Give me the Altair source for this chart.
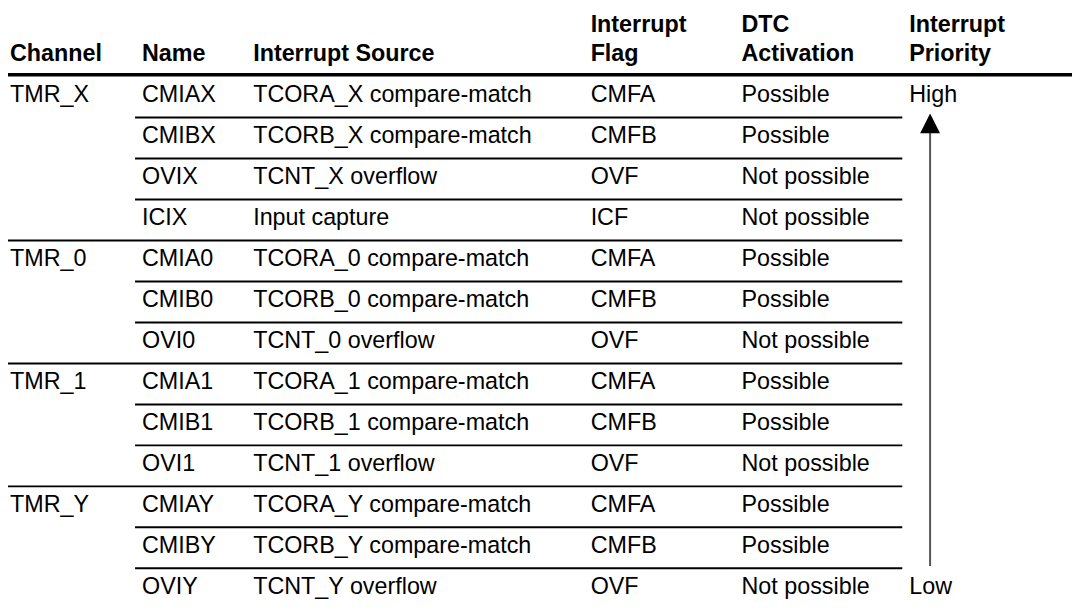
import altair as alt
import pandas as pd

# ---------------- data ----------------
columns = ["Channel", "Name", "Interrupt Source", "Interrupt Flag", "DTC Activation", "Interrupt Priority"]
header_line1 = ["", "", "", "Interrupt", "DTC", "Interrupt"]
header_line2 = ["Channel", "Name", "Interrupt Source", "Flag", "Activation", "Priority"]

channels = ["TMR_X", "", "", "", "TMR_0", "", "", "TMR_1", "", "", "TMR_Y", "", ""]
names = ["CMIAX", "CMIBX", "OVIX", "ICIX", "CMIA0", "CMIB0", "OVI0",
         "CMIA1", "CMIB1", "OVI1", "CMIAY", "CMIBY", "OVIY"]
sources = ["TCORA_X compare-match", "TCORB_X compare-match", "TCNT_X overflow", "Input capture",
           "TCORA_0 compare-match", "TCORB_0 compare-match", "TCNT_0 overflow",
           "TCORA_1 compare-match", "TCORB_1 compare-match", "TCNT_1 overflow",
           "TCORA_Y compare-match", "TCORB_Y compare-match", "TCNT_Y overflow"]
flags = ["CMFA", "CMFB", "OVF", "ICF", "CMFA", "CMFB", "OVF",
         "CMFA", "CMFB", "OVF", "CMFA", "CMFB", "OVF"]
dtc = ["Possible", "Possible", "Not possible", "Not possible", "Possible", "Possible", "Not possible",
       "Possible", "Possible", "Not possible", "Possible", "Possible", "Not possible"]
priority = ["High", "", "", "", "", "", "", "", "", "", "", "", "Low"]

table = [channels, names, sources, flags, dtc, priority]
n_rows = len(names)

# ---------------- layout (not data) ----------------
W, H = 1075, 603
COL_X = [2, 135, 247, 587, 739, 908]
ROW_TOP = 66.7
ROW_H = 41.3
FONT = "Liberation Sans"
FS = 23.5

yscale = alt.Scale(domain=[-ROW_TOP / ROW_H, (H - ROW_TOP) / ROW_H], reverse=True, nice=False, zero=False)

layers = []

# body cells, one layer per column
for j, col in enumerate(columns):
    df = pd.DataFrame({"row": list(range(n_rows)), "text": table[j]})
    df = df[df["text"] != ""]
    layers.append(
        alt.Chart(df).transform_calculate(yc="datum.row + 0.5")
        .mark_text(align="left", baseline="middle", dy=-2, font=FONT, fontSize=FS, color="black")
        .encode(x=alt.value(COL_X[j]), y=alt.Y("yc:Q", scale=yscale, axis=None), text="text:N")
    )
    hdf = pd.DataFrame({"l1": [header_line1[j]], "l2": [header_line2[j]]})
    layers.append(
        alt.Chart(hdf).mark_text(align="left", baseline="alphabetic", dy=-15.2, font=FONT,
                                 fontSize=FS, fontWeight="bold", color="black")
        .encode(x=alt.value(COL_X[j]), y=alt.Y(datum=0, scale=yscale, axis=None), text="l2:N")
    )
    if header_line1[j]:
        layers.append(
            alt.Chart(hdf).mark_text(align="left", baseline="alphabetic", dy=-45.2, font=FONT,
                                     fontSize=FS, fontWeight="bold", color="black")
            .encode(x=alt.value(COL_X[j]), y=alt.Y(datum=0, scale=yscale, axis=None), text="l1:N")
        )

# header rule
one = pd.DataFrame({"a": [0]})
layers.append(
    alt.Chart(one).mark_rule(color="black", strokeWidth=3.5)
    .encode(x=alt.value(0), x2=alt.value(1072), y=alt.Y(datum=-0.04, scale=yscale, axis=None))
)

# row separators
group_k = [k for k in range(1, n_rows) if channels[k] != ""]
inner_k = [k for k in range(1, n_rows) if channels[k] == ""]
layers.append(
    alt.Chart(pd.DataFrame({"k": group_k})).mark_rule(color="black", strokeWidth=2)
    .encode(x=alt.value(0), x2=alt.value(901), y=alt.Y("k:Q", scale=yscale, axis=None))
)
layers.append(
    alt.Chart(pd.DataFrame({"k": inner_k})).mark_rule(color="black", strokeWidth=2)
    .encode(x=alt.value(128), x2=alt.value(901), y=alt.Y("k:Q", scale=yscale, axis=None))
)

# priority arrow
layers.append(
    alt.Chart(one).mark_rule(color="#555555", strokeWidth=2)
    .encode(x=alt.value(929), y=alt.Y(datum=1.36, scale=yscale, axis=None), y2=alt.Y2(datum=11.94))
)
layers.append(
    alt.Chart(one).mark_point(shape="M0,-1L1,1L-1,1Z", size=400, filled=True, color="black",
                              strokeWidth=0, opacity=1)
    .encode(x=alt.value(929), y=alt.Y(datum=1.145, scale=yscale, axis=None))
)

chart = alt.layer(*layers).properties(
    width=W, height=H, padding=0, autosize=alt.AutoSizeParams(type="none")
).configure_view(stroke=None)

chart.save("out.html", embed_options={"renderer": "svg", "actions": False})
